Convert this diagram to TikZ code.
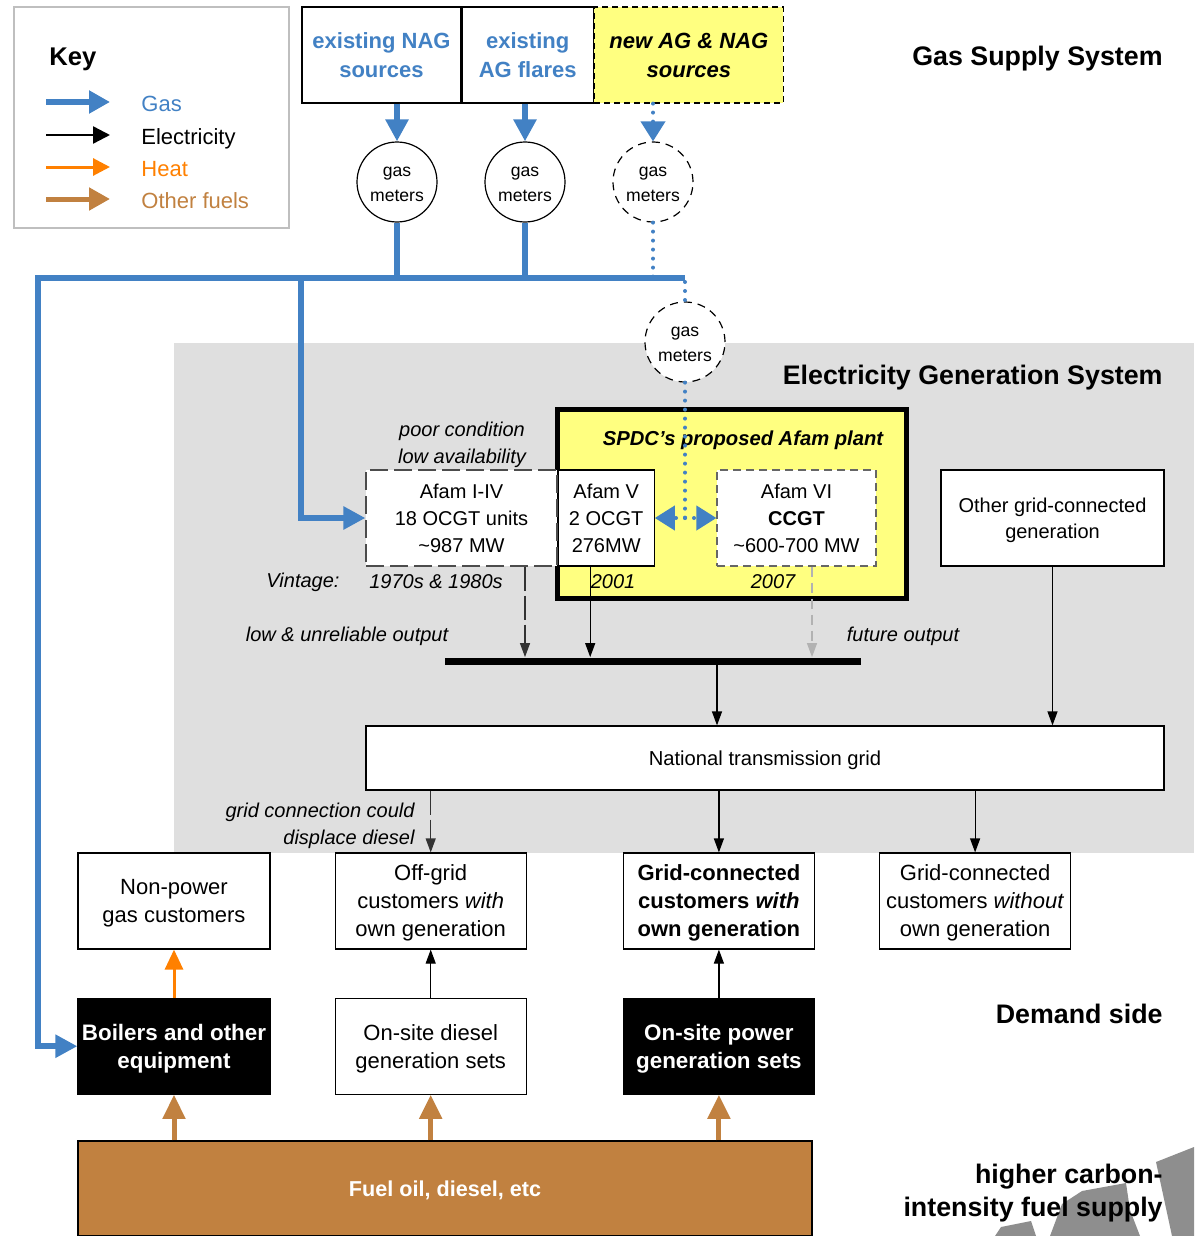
\documentclass[tikz,border=0pt]{standalone}
\usepackage{fontspec}
\setmainfont{Liberation Sans}
\usetikzlibrary{arrows.meta,positioning}
\definecolor{gasblue}{RGB}{66,129,196}
\definecolor{heatorange}{RGB}{255,128,0}
\definecolor{fuelbrown}{RGB}{193,129,64}
\definecolor{plantyellow}{RGB}{255,255,128}
\definecolor{egsgrey}{RGB}{223,223,223}
\definecolor{blobgrey}{RGB}{142,142,142}
\tikzset{gastip/.tip={Triangle[length=11pt,width=11pt]}}
\tikzset{electip/.tip={Triangle[length=7pt,width=5pt]}}
\tikzset{heattip/.tip={Triangle[length=10pt,width=9pt]}}
\tikzset{fueltip/.tip={Triangle[length=12pt,width=11pt]}}

\begin{document}
\begin{tikzpicture}[x=0.5pt,y=-0.5pt,
    txt/.style={inner sep=0pt,font=\fontsize{10}{13.5}\selectfont},
    note/.style={inner sep=0pt,align=center,font=\fontsize{10}{13.5}\selectfont\itshape},
    head/.style={inner sep=0pt,align=right,anchor=east,font=\fontsize{13.4}{16.5}\selectfont\bfseries},
    box/.style={draw,fill=white,line width=0.6pt,align=center,inner sep=1pt,minimum height=48pt,text depth=0pt,font=\fontsize{11}{14}\selectfont},
    unit/.style={box,font=\fontsize{10}{13.5}\selectfont},
    blackbox/.style={box,fill=black,text=white,font=\fontsize{11.2}{14}\selectfont\bfseries},
    source/.style={box,text=gasblue,minimum height=48pt,font=\fontsize{11}{14.5}\selectfont\bfseries},
    meter/.style={circle,draw,fill=white,line width=0.6pt,minimum size=40pt,inner sep=0pt,align=center,text height=20pt,font=\fontsize{8.8}{12.5}\selectfont},
    newmeter/.style={meter,dash pattern=on 4pt off 3pt},
    gasline/.style={draw=gasblue,line width=3pt},
    gas/.style={gasline,-gastip},
    gasdotline/.style={draw=gasblue,line width=2pt,line cap=round,dash pattern=on 0pt off 4.5pt},
    gasdot/.style={gasdotline,-{Triangle[length=10pt,width=12pt]}},
    elec/.style={draw=black,line width=0.6pt,-electip},
    elecdash/.style={elec,draw=black!80,dash pattern=on 12pt off 2.5pt},
    future/.style={draw=gray!60,line width=0.6pt,dash pattern=on 5pt off 3pt,-{Triangle[length=7pt,width=5pt,fill=gray!60]}},
    heat/.style={draw=heatorange,line width=1.5pt,-heattip},
    fuel/.style={draw=fuelbrown,line width=2.5pt,-fueltip}]
  \useasboundingbox (0,0) rectangle (1194,1236);
  \fill[egsgrey] (174,343) rectangle (1194,853);

  \node[draw=black!25,line width=0.6pt,minimum width=137.5pt,minimum height=110.5pt] (keyframe) at (151.5,117.5) {};
  \node[txt,anchor=west,font=\fontsize{12.8}{15}\selectfont\bfseries] (keytitle) at (49,59) {Key};
  \node[txt,anchor=mid west,text=gasblue,font=\fontsize{11}{13}\selectfont] (kgas) at (141,106) {Gas};
  \node[txt,anchor=mid west,font=\fontsize{11}{13}\selectfont] (kelec) at (141,139) {Electricity};
  \node[txt,anchor=mid west,text=heatorange,font=\fontsize{11}{13}\selectfont] (kheat) at (141,171) {Heat};
  \node[txt,anchor=mid west,text=fuelbrown,font=\fontsize{11}{13}\selectfont] (kfuel) at (141,203) {Other fuels};
  \draw[gas,-{Triangle[length=10.5pt,width=11pt]}] ([xshift=-47.5pt,yshift=2pt]kgas.mid west) -- ([xshift=-15.5pt,yshift=2pt]kgas.mid west);
  \draw[line width=1.2pt,-{Triangle[length=8.5pt,width=8.5pt]}] ([xshift=-47.5pt,yshift=2pt]kelec.mid west) -- ([xshift=-15.5pt,yshift=2pt]kelec.mid west);
  \draw[heat,-{Triangle[length=8.5pt,width=8.5pt]}] ([xshift=-47.5pt,yshift=2pt]kheat.mid west) -- ([xshift=-15.5pt,yshift=2pt]kheat.mid west);
  \draw[fuel,-{Triangle[length=10.5pt,width=11pt]}] ([xshift=-47.5pt,yshift=2pt]kfuel.mid west) -- ([xshift=-15.5pt,yshift=2pt]kfuel.mid west);

  \node[source,minimum width=79.5pt] (nag) at (381.5,55) {existing NAG\\sources};
  \node[source,minimum width=65.5pt,right=0pt of nag] (agf) {existing\\AG flares};
  \node[source,minimum width=94.5pt,right=0pt of agf,text=black,fill=plantyellow,dash pattern=on 3pt off 2pt,font=\fontsize{11}{14.5}\selectfont\bfseries\itshape] (newsrc) {new AG \& NAG\\sources};

  \node[head] (gss) at (1163,59) {Gas Supply System};
  \node[head] (egs) at (1163,378) {Electricity Generation System};
  \node[head] (dem) at (1163,1014) {Demand side};

  \node[meter] (m1) at (397,182) {gas\\meters};
  \node[meter] (m2) at (525,182) {gas\\meters};
  \node[newmeter] (m3) at (653,182) {gas\\meters};
  \node[newmeter] (m4) at (685,342) {gas\\meters};

  \coordinate (trunkW) at (38,278);
  \coordinate (tap) at (301,278);
  \coordinate (trunkE) at (685,278);
  \coordinate (split) at (685,518);

  \node[draw,line width=2.5pt,fill=plantyellow,minimum width=174.5pt,minimum height=94.5pt,inner sep=0pt] (spdc) at (731.5,503.5) {};
  \node[txt,font=\fontsize{10.1}{13}\selectfont\bfseries\itshape] (spdctitle) at (743,440) {SPDC's proposed Afam plant};

  \node[unit,minimum width=95.5pt,draw=black!70,dash pattern=on 9pt off 3pt] (afam14) at (461.5,518) {Afam I-IV\\18 OCGT units\\\textasciitilde987 MW};
  \node[unit,minimum width=48pt,right=0pt of afam14] (afam5) {Afam V\\2 OCGT\\276MW};
  \node[unit,minimum width=79.5pt,draw=black!60,dash pattern=on 4pt off 2.5pt] (afam6) at (796.5,518) {Afam VI\\\textbf{CCGT}\\\textasciitilde600-700 MW};
  \node[unit,minimum width=111.5pt,font=\fontsize{10}{13}\selectfont] (other) at (1052.5,518) {Other grid-connected\\generation};

  \node[note] (poor) at (462,445) {poor condition\\low availability};
  \node[note] (vint) at (303,582) {Vintage:};
  \node[note] (vold) at (436,582) {1970s \& 1980s};
  \node[note] (v2001) at (613,582) {2001};
  \node[note] (v2007) at (773,582) {2007};
  \node[note] (lowout) at (347,636) {low \& unreliable output};
  \node[note] (futout) at (903,636) {future output};

  \node[fill=black,inner sep=0pt,minimum width=208pt,minimum height=3.5pt] (bus) at (653,661) {};
  \node[unit,minimum width=399pt,minimum height=32pt,font=\fontsize{10.1}{13}\selectfont] (grid) at (765,758) {National transmission grid};
  \node[note,align=right,anchor=east] (displace) at (415,826) {grid connection could\\displace diesel};

  \node[box,minimum width=96pt] (nonpower) at (174,901) {Non-power\\gas customers};
  \node[box,minimum width=95.5pt,right=32pt of nonpower] (offgrid) {Off-grid\\customers \textit{with}\\own generation};
  \node[box,minimum width=95.5pt,right=48pt of offgrid,font=\fontsize{11}{14}\selectfont\bfseries] (gcwith) {Grid-connected\\customers \textit{with}\\own generation};
  \node[box,minimum width=95.5pt,right=32pt of gcwith] (gcwithout) {Grid-connected\\customers \textit{without}\\own generation};

  \node[blackbox,minimum width=96pt,below=24pt of nonpower] (boil) {Boilers and other\\equipment};
  \node[box,minimum width=95.5pt,below=24pt of offgrid] (diesel) {On-site diesel\\generation sets};
  \node[blackbox,minimum width=95.5pt,below=24pt of gcwith] (onsite) {On-site power\\generation sets};

  \node[draw,line width=0.6pt,fill=fuelbrown,text=white,minimum width=367pt,minimum height=47.5pt,text depth=0pt,font=\fontsize{10.8}{13}\selectfont\bfseries] (fueloil) at (445,1188.5) {Fuel oil, diesel, etc};

  \fill[blobgrey] (1156,1162) -- (1194,1147) -- (1194,1236) -- (1172,1236) -- cycle;
  \fill[blobgrey] (1050,1236) -- (1062,1204) -- (1082,1191) -- (1126,1183) -- (1130,1210) -- (1140,1236) -- cycle;
  \fill[blobgrey] (995,1236) -- (1001,1227) -- (1031,1221) -- (1036,1236) -- cycle;
  \node[head] (hcf) at (1163,1193) {higher carbon-\\intensity fuel supply};

  \draw[gas] (nag.south -| m1) -- (m1);
  \draw[gas] (agf.south -| m2) -- (m2);
  \draw[gasdot] (newsrc.south -| m3) -- (m3);
  \draw[gasline] (m1) -- (m1 |- trunkE);
  \draw[gasline] (m2) -- (m2 |- trunkE);
  \draw[gasdotline] (m3) -- ([yshift=-3.5pt]m3 |- trunkE);
  \draw[gas] (trunkE) -- (trunkW) |- (boil.west);
  \draw[gas] (tap) |- (afam14.west);
  \draw[gasdotline] ([yshift=-2pt]trunkE) -- (m4);
  \draw[gasdotline] (m4) -- (split);
  \draw[gasdot] (split) -- (afam5.east);
  \draw[gasdot] (split) -- (afam6.west);

  \draw[elecdash] ([xshift=31.75pt]afam14.south) -- ([xshift=31.75pt]afam14.south |- bus.north);
  \draw[elec] ([xshift=-8pt]afam5.south) -- ([xshift=-8pt]afam5.south |- bus.north);
  \draw[future] ([xshift=7.75pt]afam6.south) -- ([xshift=7.75pt]afam6.south |- bus.north);
  \draw[elec] ([xshift=32pt]bus.south) -- ([xshift=32pt]bus.south |- grid.north);
  \draw[elec] (other.south) -- (other.south |- grid.north);
  \draw[elecdash] (grid.south -| offgrid) -- (offgrid);
  \draw[elec] (grid.south -| gcwith) -- (gcwith);
  \draw[elec] (grid.south -| gcwithout) -- (gcwithout);

  \draw[heat] (boil) -- (nonpower);
  \draw[elec] (diesel) -- (offgrid);
  \draw[elec] (onsite) -- (gcwith);
  \draw[fuel] (fueloil.north -| boil) -- (boil);
  \draw[fuel] (fueloil.north -| diesel) -- (diesel);
  \draw[fuel] (fueloil.north -| onsite) -- (onsite);
\end{tikzpicture}
\end{document}
